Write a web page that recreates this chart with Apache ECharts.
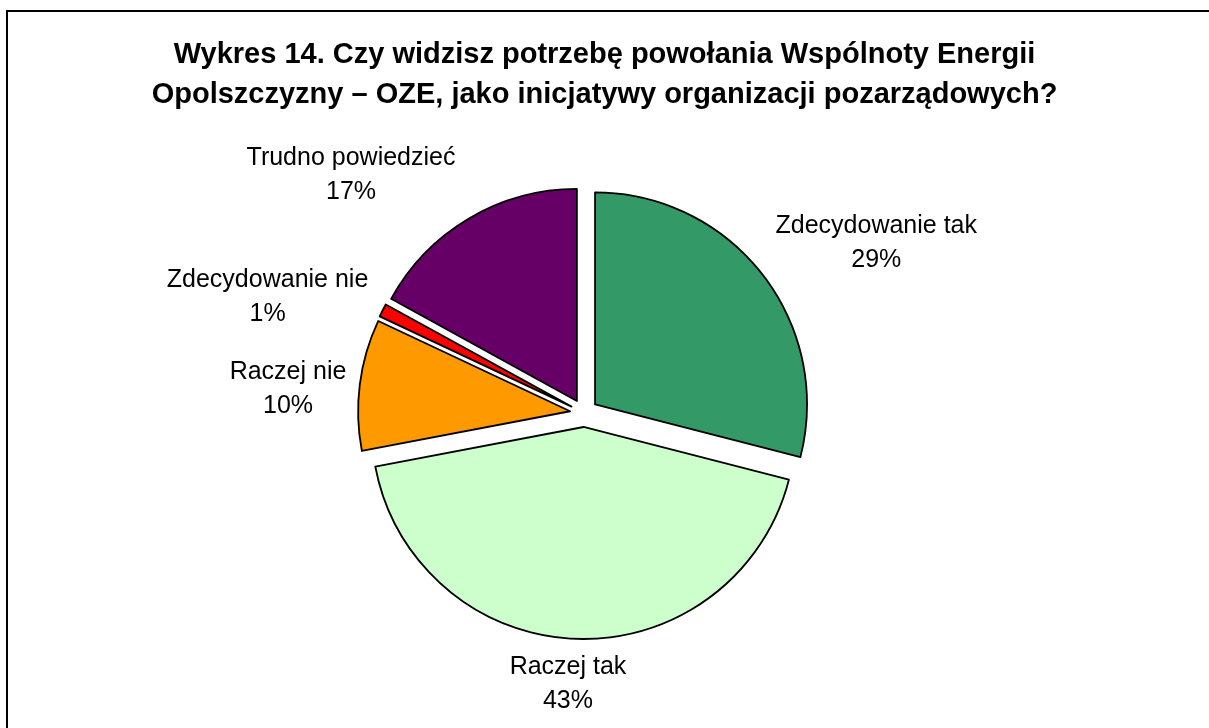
<!DOCTYPE html>
<html>
<head>
<meta charset="utf-8">
<script src="https://cdn.jsdelivr.net/npm/echarts@6/dist/echarts.min.js"></script>
<style>
html,body{margin:0;padding:0;background:#fff;}
#chart{width:1209px;height:728px;}
</style>
</head>
<body>
<div id="chart"></div>
<script>
const titleLines = ['Wykres 14. Czy widzisz potrzebę powołania Wspólnoty Energii',
                    'Opolszczyzny – OZE, jako inicjatywy organizacji pozarządowych?'];
const categories = ['Zdecydowanie tak', 'Raczej tak', 'Raczej nie', 'Zdecydowanie nie', 'Trudno powiedzieć'];
const values = [29, 43, 10, 1, 17];
const colors = ['#339966', '#CCFFCC', '#FF9900', '#FF0000', '#660066'];
// label placement tuning (label line lengths, line hidden)
const labelLen = [51, 45, -34.5, 29.5, 50.4];
const labelLen2 = [73.4, 7.5, 106, 88.8, 92.3];

const chart = echarts.init(document.getElementById('chart'), null, {renderer: 'canvas'});
const FONT = '"Liberation Sans", Arial, sans-serif';

const option = {
  animation: false,
  backgroundColor: '#ffffff',
  title: {
    text: titleLines.join('\n'),
    left: 'center',
    top: 35,
    padding: [0, 0, 0, 6],
    textStyle: {
      fontFamily: FONT,
      fontWeight: 'bold',
      fontSize: 29,
      lineHeight: 40,
      color: '#000'
    }
  },
  graphic: [{
    type: 'rect',
    silent: true,
    shape: {x: 7, y: 11, width: 1240, height: 760},
    style: {fill: 'none', stroke: '#000', lineWidth: 2}
  }],
  series: [{
    type: 'pie',
    center: [584, 413],
    radius: 212,
    startAngle: 90,
    clockwise: true,
    selectedMode: 'multiple',
    selectedOffset: 14,
    avoidLabelOverlap: false,
    emphasis: {disabled: true},
    itemStyle: {borderColor: '#000', borderWidth: 1.8},
    label: {
      show: true,
      position: 'outside',
      formatter: '{b}\n{c}%',
      fontFamily: FONT,
      fontSize: 25,
      lineHeight: 34,
      color: '#000',
      distanceToLabelLine: 0
    },
    labelLine: {show: false},
    labelLayout: {align: 'center'},
    data: categories.map((name, i) => ({
      name: name,
      value: values[i],
      selected: true,
      itemStyle: {color: colors[i]},
      labelLine: {show: false, length: labelLen[i], length2: labelLen2[i]}
    }))
  }]
};
chart.setOption(option);
</script>
</body>
</html>
